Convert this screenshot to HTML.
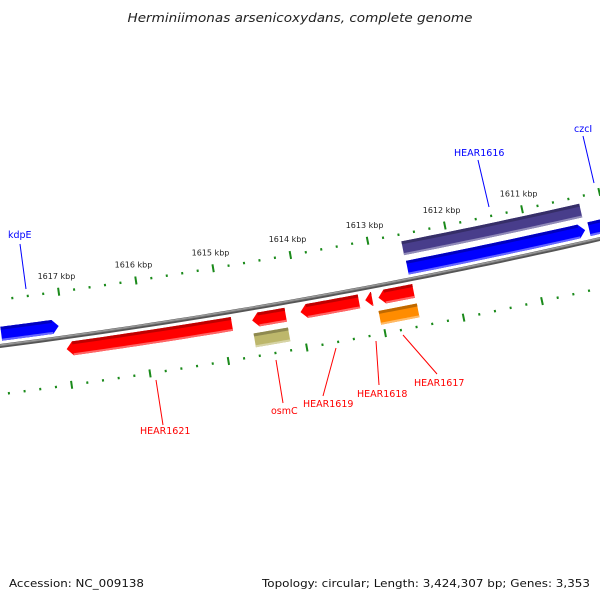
<!DOCTYPE html>
<html><head><meta charset="utf-8">
<style>
html,body{margin:0;padding:0;background:#fff;}
svg{display:block;font-family:"DejaVu Sans","Liberation Sans",sans-serif;}
</style></head>
<body>
<svg id="map" width="600" height="600" viewBox="0 0 600 600" xmlns="http://www.w3.org/2000/svg">
<rect width="600" height="600" fill="#fff"/>
<text x="300" y="22" text-anchor="middle" font-size="12.5" font-style="italic" fill="#222" textLength="345" lengthAdjust="spacingAndGlyphs">Herminiimonas arsenicoxydans, complete genome</text>
<g id="ticks"></g>
<g id="backbone"></g>
<g id="genes"></g>
<g font-size="9.5">
  <line x1="20" y1="244" x2="26" y2="289" stroke="#0000ff" stroke-width="1"/>
  <text x="8" y="238" fill="#0000ff">kdpE</text>
  <line x1="478" y1="160" x2="489" y2="207" stroke="#0000ff" stroke-width="1"/>
  <text x="454" y="156" fill="#0000ff">HEAR1616</text>
  <line x1="583" y1="136" x2="594" y2="183" stroke="#0000ff" stroke-width="1"/>
  <text x="574" y="132" fill="#0000ff">czcI</text>
  <line x1="156" y1="380" x2="163" y2="425" stroke="#ff0000" stroke-width="1"/>
  <text x="140" y="434" fill="#ff0000">HEAR1621</text>
  <line x1="276" y1="360" x2="283" y2="403" stroke="#ff0000" stroke-width="1"/>
  <text x="271" y="414" fill="#ff0000">osmC</text>
  <line x1="336" y1="348" x2="323" y2="396" stroke="#ff0000" stroke-width="1"/>
  <text x="303" y="407" fill="#ff0000">HEAR1619</text>
  <line x1="376" y1="341" x2="379" y2="385" stroke="#ff0000" stroke-width="1"/>
  <text x="357" y="397" fill="#ff0000">HEAR1618</text>
  <line x1="403" y1="335" x2="437" y2="374" stroke="#ff0000" stroke-width="1"/>
  <text x="414" y="386" fill="#ff0000">HEAR1617</text>
</g>
<text x="9" y="587" font-size="11" fill="#111" textLength="135" lengthAdjust="spacingAndGlyphs">Accession: NC_009138</text>
<text x="590" y="587" font-size="11" fill="#111" text-anchor="end" textLength="328" lengthAdjust="spacingAndGlyphs">Topology: circular; Length: 3,424,307 bp; Genes: 3,353</text>
</svg>
<script>
// data
const tickKbp = [1611, 1612, 1613, 1614, 1615, 1616, 1617];
const tickLabels = ["1611 kbp","1612 kbp","1613 kbp","1614 kbp","1615 kbp","1616 kbp","1617 kbp"];
const geneNames = ["left-gene","left-gene-2","kdpE","HEAR1621","HEAR1620","osmC","HEAR1619","HEAR1618","HEAR1617","HEAR1617b","HEAR1616","HEAR1615","czcI"];
const geneStart = [1617870,1617850,1617060,1614880,1614190,1614190,1613250,1613080,1612550,1612540,1610280,1610280,1609500];
const geneEnd   = [1618500,1618500,1617800,1617000,1614620,1614630,1614000,1613170,1613000,1613030,1612580,1612570,1610230];
const geneStrand = [1,1,1,-1,-1,-1,-1,-1,-1,-1,1,1,1];
const geneRow = [1,2,1,1,1,2,1,1,1,2,2,1,1];
const geneArrow = [1,0,1,-1,-1,0,-1,-1,-1,0,0,1,1];
const geneColor = ["#0000ff","#33cc33","#0000ff","#ff0000","#ff0000","#bdb76b","#ff0000","#ff0000","#ff0000","#ff8c00","#483d8b","#0000ff","#0000ff"];

const NS="http://www.w3.org/2000/svg";
// geometry: circle through three backbone points
const p1=[0,346],p2=[300,300],p3=[600,239];
function circ(a,b,c){const d=2*(a[0]*(b[1]-c[1])+b[0]*(c[1]-a[1])+c[0]*(a[1]-b[1]));
 const A=a[0]*a[0]+a[1]*a[1],B=b[0]*b[0]+b[1]*b[1],Cc=c[0]*c[0]+c[1]*c[1];
 return [(A*(b[1]-c[1])+B*(c[1]-a[1])+Cc*(a[1]-b[1]))/d,(A*(c[0]-b[0])+B*(a[0]-c[0])+Cc*(b[0]-a[0]))/d];}
const Cn=circ(p1,p2,p3);const R=Math.hypot(p1[0]-Cn[0],p1[1]-Cn[1]);
const s=Math.sign(p1[1]-Cn[1]);
const X0=65, PXK=77.8;
function ang(bp){const x=X0+(1617000-bp)/1000*PXK;const y=Cn[1]+s*Math.sqrt(R*R-(x-Cn[0])*(x-Cn[0]));return Math.atan2(y-Cn[1],x-Cn[0]);}
function P(bp,off){const a=ang(bp);const r=R-s*off;return [Cn[0]+r*Math.cos(a),Cn[1]+r*Math.sin(a)];}
function f(p){return p[0].toFixed(2)+","+p[1].toFixed(2);}
function arc(lo,hi,off,n){const pts=[];for(let i=0;i<=n;i++){pts.push(P(lo+(hi-lo)*i/n,off));}return pts;}

// backbone
const bb=document.getElementById('backbone');
[[3.2,"#555"],[1.6,"#888"],[0.6,"#aaa"]].forEach(function(st,i){
 const pts=arc(1609000,1618600,i*0.6,60);
 const pl=document.createElementNS(NS,'polyline');
 
 
 pl.setAttribute('points',pts.map(f).join(' '));pl.setAttribute('fill','none');
 pl.setAttribute('stroke',st[1]);pl.setAttribute('stroke-width',i==0?4:st[0]);
 bb.appendChild(pl);});

// ticks
const tg=document.getElementById('ticks');
for(let bp=1609000;bp<=1618600;bp+=200){
 const major=bp%1000===0;
 [46,-48].forEach(function(off){
  const h=major?4:1.2;const a=P(bp,off-h),b=P(bp,off+h);
  const ln=document.createElementNS(NS,'line');
  
  
  ln.setAttribute('x1',a[0]);ln.setAttribute('y1',a[1]);ln.setAttribute('x2',b[0]);ln.setAttribute('y2',b[1]);
  ln.setAttribute('stroke','#1a8a1a');ln.setAttribute('stroke-width',2);
  tg.appendChild(ln);});
}
tickKbp.forEach(function(k,i){const p=P(k*1000,62);
 const t=document.createElementNS(NS,'text');
 
 
 t.setAttribute('x',p[0]);t.setAttribute('y',p[1]+3);t.setAttribute('text-anchor','middle');
 t.setAttribute('font-size','8');t.setAttribute('fill','#222');t.textContent=tickLabels[i];tg.appendChild(t);});

// genes
const gg=document.getElementById('genes');
function shade(c,k){const n=parseInt(c.slice(1),16);let r=n>>16,g=(n>>8)&255,b=n&255;
 if(k<0){r*=1+k;g*=1+k;b*=1+k;}else{r+=(255-r)*k;g+=(255-g)*k;b+=(255-b)*k;}
 return "rgb("+Math.round(r)+","+Math.round(g)+","+Math.round(b)+")";}
function genePoly(lo,hi,o1,o2,arrow){
 const head=80;const mid=(o1+o2)/2;let pts=[];
 if(arrow===1){pts=pts.concat(arc(hi,lo+head,o2,20));pts.push(P(lo,mid));pts=pts.concat(arc(lo+head,hi,o1,20));}
 else if(arrow===-1){pts=pts.concat(arc(hi-head,lo,o2,20));pts=pts.concat(arc(lo,hi-head,o1,20));pts.push(P(hi,mid));}
 else{pts=pts.concat(arc(hi,lo,o2,20));pts=pts.concat(arc(lo,hi,o1,20));}
 return pts.map(f).join(' ');}
geneNames.forEach(function(nm,i){
 const up=geneStrand[i]>0;const r=geneRow[i];
 const a=r===1?5:25,b=r===1?19:39;
 const o1=up?a:-b,o2=up?b:-a; // o2 = upper edge
 const lo=geneStart[i],hi=geneEnd[i];
 const g=document.createElementNS(NS,'g');
 
 
 const base=document.createElementNS(NS,'polygon');
 
 
 base.setAttribute('points',genePoly(lo,hi,o1,o2,geneArrow[i]));base.setAttribute('fill',geneColor[i]);g.appendChild(base);
 const hd=80;const l2=geneArrow[i]===1?lo+hd:lo,h2=geneArrow[i]===-1?hi-hd:hi;
 const top=document.createElementNS(NS,'polygon');
 
 
 top.setAttribute('points',arc(h2,l2,o2,20).concat(arc(l2,h2,o2-3,20)).map(f).join(' '));top.setAttribute('fill',shade(geneColor[i],-0.25));g.appendChild(top);
 const bot=document.createElementNS(NS,'polygon');
 
 
 bot.setAttribute('points',arc(h2,l2,o1+2,20).concat(arc(l2,h2,o1,20)).map(f).join(' '));bot.setAttribute('fill',shade(geneColor[i],0.4));g.appendChild(bot);
 gg.appendChild(g);});
</script>
</body></html>
